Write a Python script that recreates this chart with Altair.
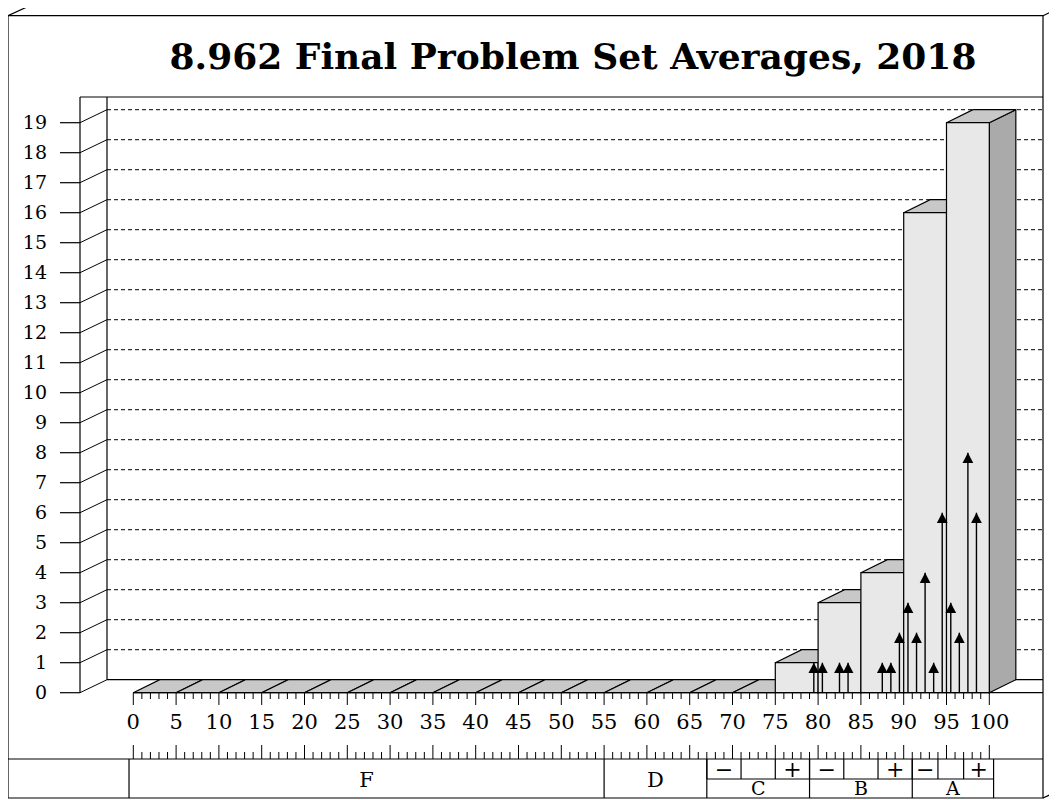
import altair as alt
import pandas as pd

# ---------------- data ----------------
TITLE = "8.962 Final Problem Set Averages, 2018"
bin_start = [0, 5, 10, 15, 20, 25, 30, 35, 40, 45, 50, 55, 60, 65, 70, 75, 80, 85, 90, 95]
bin_count = [0, 0, 0, 0, 0, 0, 0, 0, 0, 0, 0, 0, 0, 0, 0, 1, 3, 4, 16, 19]
score = [79.5, 80.5, 82.5, 83.5, 87.5, 88.5, 89.5, 90.5, 91.5, 92.5, 93.5, 94.5, 95.5, 96.5, 97.5, 98.5]
score_count = [1, 1, 1, 1, 1, 1, 2, 3, 2, 4, 1, 6, 3, 2, 8, 6]
y_ticks = list(range(0, 20))
x_ticks = list(range(0, 101))
x_labels = list(range(0, 101, 5))
grade_names = ["F", "D", "C", "B", "A"]
grade_lo = [-0.5, 55, 67, 79, 91]
grade_hi = [55, 67, 79, 91, 100.5]
sub_lo = [67, 71, 75, 79, 83, 87, 91, 94, 97]
sub_hi = [71, 75, 79, 83, 87, 91, 94, 97, 100.5]
sub_sign = ["\u2212", "", "+", "\u2212", "", "+", "\u2212", "", "+"]

# ---------------- styling constants ----------------
BIN_W = 5
DX = 3.1     # depth offset in x units
DY = 0.433   # depth offset in y units
SERIF = "DejaVu Serif"
LW = 1.2
BOTTOM = 790

xs = alt.Scale(domain=[0, 100], range=[125.3, 981.3], nice=False, zero=False)
ys = alt.Scale(domain=[0, 19], range=[684.7, 114.7], nice=False, zero=False)

# ---------------- tables ----------------
bars = pd.DataFrame({"b": bin_start, "h": bin_count})
bars["b2"] = bars["b"] + BIN_W

top_rows = []
for i, (b, h) in enumerate(zip(bin_start, bin_count)):
    top_rows += [
        {"bin": i, "px": b, "lo": h, "hi": h},
        {"bin": i, "px": b + DX, "lo": h, "hi": h + DY},
        {"bin": i, "px": b + BIN_W, "lo": h, "hi": h + DY},
        {"bin": i, "px": b + BIN_W + DX, "lo": h + DY, "hi": h + DY},
    ]
tops = pd.DataFrame(top_rows)

side_rows = []
for i, (b, h) in enumerate(zip(bin_start, bin_count)):
    if h > 0:
        side_rows += [
            {"bin": i, "px": b + BIN_W, "lo": 0, "hi": h},
            {"bin": i, "px": b + BIN_W + DX, "lo": DY, "hi": h + DY},
        ]
sides = pd.DataFrame(side_rows)

arrows = pd.DataFrame({"s": score, "n": score_count})
yt = pd.DataFrame({"v": y_ticks})
yt["v2"] = yt["v"] + DY
xt = pd.DataFrame({"t": x_ticks})
xt_major = xt[xt["t"] % 5 == 0]
xt_minor = xt[xt["t"] % 5 != 0]
xl = pd.DataFrame({"t": x_labels})
grades = pd.DataFrame({"g": grade_names, "lo": grade_lo, "hi": grade_hi})
grades["mid"] = (grades["lo"] + grades["hi"]) / 2
subs = pd.DataFrame({"lo": sub_lo, "hi": sub_hi, "sign": sub_sign})
subs["mid"] = (subs["lo"] + subs["hi"]) / 2
one = pd.DataFrame({"k": [0]})

X = lambda f: alt.X(f, scale=xs, axis=None)
Y = lambda f: alt.Y(f, scale=ys, axis=None, stack=None)

def furn(x, x2, y, y2, dash=None, w=LW):
    kw = dict(color="black", strokeWidth=w)
    if dash:
        kw["strokeDash"] = dash
    return alt.Chart(one).mark_rule(**kw).encode(
        x=alt.value(x), x2=alt.value(x2), y=alt.value(y), y2=alt.value(y2))

layers = []

# outer 3D frame
layers.append(alt.Chart(one).mark_rect(fill="white", stroke="black", strokeWidth=LW).encode(
    x=alt.value(0), x2=alt.value(1035), y=alt.value(7.7), y2=alt.value(BOTTOM)))
layers.append(furn(0, 27, 7.7, -4.7))
layers.append(furn(1035, 1062, 7.7, -4.7))
layers.append(furn(1035, 1062, BOTTOM, BOTTOM - 12.4))

# title
layers.append(alt.Chart(pd.DataFrame({"t": [TITLE]})).mark_text(
    font=SERIF, fontSize=36, fontWeight="bold", color="black", align="center", baseline="middle"
).encode(x=alt.value(565), y=alt.value(50), text="t:N"))

# plot panel
layers.append(furn(72, 1035, 89, 89))
layers.append(furn(72, 72, 89, 684.7))
layers.append(furn(99, 99, 89, 671.7))
layers.append(furn(99, 1035, 671.7, 671.7))

# y ticks, diagonals, gridlines, labels
layers.append(alt.Chart(yt).mark_rule(color="black", strokeWidth=LW).encode(
    x=alt.value(52), x2=alt.value(72), y=Y("v:Q")))
layers.append(alt.Chart(yt).mark_rule(color="black", strokeWidth=1).encode(
    x=alt.value(72), x2=alt.value(99), y=Y("v:Q"), y2="v2:Q"))
layers.append(alt.Chart(yt[yt["v"] > 0]).mark_rule(
    color="black", strokeWidth=1, strokeDash=[4, 3]).encode(
    x=alt.value(99), x2=alt.value(1035), y=Y("v2:Q")))
layers.append(alt.Chart(yt).mark_text(font=SERIF, fontSize=19, color="black", align="right",
                                      baseline="middle").encode(
    x=alt.value(39), y=Y("v:Q"), text="v:Q"))

# bars
layers.append(alt.Chart(sides).mark_area(fill="#aaaaaa", stroke="black", strokeWidth=LW,
                                         opacity=1).encode(
    x=X("px:Q"), y=Y("lo:Q"), y2="hi:Q", detail="bin:N"))
layers.append(alt.Chart(tops).mark_area(fill="#c8c8c8", stroke="black", strokeWidth=LW,
                                        opacity=1).encode(
    x=X("px:Q"), y=Y("lo:Q"), y2="hi:Q", detail="bin:N"))
layers.append(alt.Chart(bars[bars["h"] > 0]).mark_rect(
    fill="#e8e8e8", stroke="black", strokeWidth=LW).encode(
    x=X("b:Q"), x2="b2:Q", y=Y("h:Q"), y2=alt.Y2(datum=0)))

# arrows
layers.append(alt.Chart(arrows).mark_rule(color="black", strokeWidth=1.4).encode(
    x=X("s:Q"), y=Y("n:Q"), y2=alt.Y2(datum=0)))
layers.append(alt.Chart(arrows).mark_point(shape="M0,0L-1.1,2.1L1.1,2.1Z", filled=True,
                                          fill="black", strokeWidth=0, size=95,
                                          opacity=1).encode(
    x=X("s:Q"), y=Y("n:Q")))

# x axis line, ticks, labels
layers.append(alt.Chart(one).mark_rule(color="black", strokeWidth=LW).encode(
    x=alt.X(datum=0, scale=xs, axis=None), x2=alt.value(1035), y=alt.value(684.7)))
layers.append(alt.Chart(xt_major).mark_rule(color="black", strokeWidth=1).encode(
    x=X("t:Q"), y=alt.value(684.7), y2=alt.value(697)))
layers.append(alt.Chart(xt_minor).mark_rule(color="black", strokeWidth=1).encode(
    x=X("t:Q"), y=alt.value(684.7), y2=alt.value(691)))
layers.append(alt.Chart(xl).mark_text(font=SERIF, fontSize=21, color="black", align="center",
                                      baseline="middle").encode(
    x=X("t:Q"), y=alt.value(715), text="t:Q"))

# lower ruler
layers.append(furn(0, 1035, 751, 751))
layers.append(alt.Chart(xt_major).mark_rule(color="black", strokeWidth=1).encode(
    x=X("t:Q"), y=alt.value(751), y2=alt.value(737)))
layers.append(alt.Chart(xt_minor).mark_rule(color="black", strokeWidth=1).encode(
    x=X("t:Q"), y=alt.value(751), y2=alt.value(744)))

# grade table
layers.append(alt.Chart(grades).mark_rule(color="black", strokeWidth=LW).encode(
    x=X("lo:Q"), y=alt.value(751), y2=alt.value(BOTTOM)))
layers.append(alt.Chart(grades.tail(1)).mark_rule(color="black", strokeWidth=LW).encode(
    x=X("hi:Q"), y=alt.value(751), y2=alt.value(BOTTOM)))
layers.append(alt.Chart(subs).mark_rule(color="black", strokeWidth=LW).encode(
    x=X("lo:Q"), y=alt.value(751), y2=alt.value(771)))
mid_row = pd.DataFrame({"lo": [grade_lo[2]], "hi": [grade_hi[4]]})
layers.append(alt.Chart(mid_row).mark_rule(color="black", strokeWidth=LW).encode(
    x=X("lo:Q"), x2="hi:Q", y=alt.value(771)))
layers.append(alt.Chart(grades.head(2)).mark_text(font=SERIF, fontSize=21, color="black",
                                                  align="center", baseline="alphabetic").encode(
    x=X("mid:Q"), y=alt.value(779), text="g:N"))
layers.append(alt.Chart(grades.tail(3)).mark_text(font=SERIF, fontSize=19, color="black",
                                                  align="center", baseline="alphabetic").encode(
    x=X("mid:Q"), y=alt.value(786.5), text="g:N"))
layers.append(alt.Chart(subs).mark_text(font=SERIF, fontSize=22, color="black",
                                        align="center", baseline="middle").encode(
    x=X("mid:Q"), y=alt.value(762), text="sign:N"))

chart = alt.layer(*layers).properties(
    width=1041, height=792, autosize=alt.AutoSizeParams(type="none"),
    padding={"left": 0, "top": 0, "right": 0, "bottom": 0}
).configure_view(stroke=None)

chart.save("out.html", embed_options={"renderer": "svg", "actions": False})
